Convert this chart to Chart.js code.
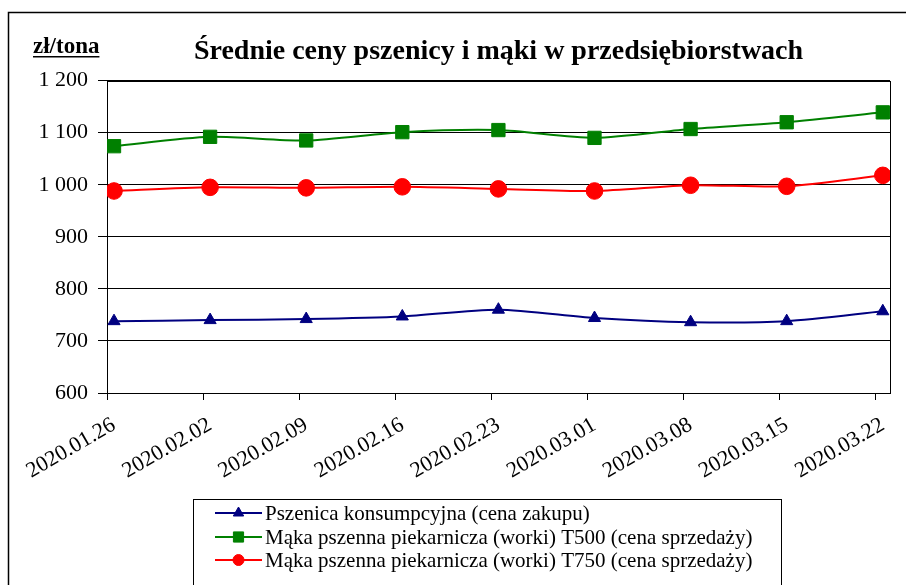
<!DOCTYPE html>
<html>
<head>
<meta charset="utf-8">
<script src="https://cdn.jsdelivr.net/npm/chart.js@4/dist/chart.umd.min.js"></script>
<style>
html,body{margin:0;padding:0;background:#fff;}
#wrap{width:906px;height:585px;}
</style>
</head>
<body>
<div id="wrap"><canvas id="c" width="906" height="585"></canvas></div>
<script>
// ---- data ----
const dates = ['2020.01.26','2020.02.02','2020.02.09','2020.02.16','2020.02.23','2020.03.01','2020.03.08','2020.03.15','2020.03.22'];
const wheat = [738, 740, 742, 747, 760, 744, 736, 738, 757];
const flourT500 = [1074, 1092, 1085, 1101, 1105, 1090, 1107, 1120, 1139];
const flourT750 = [988, 995, 994, 996, 992, 988, 999, 997, 1018];
const seriesNames = [
  'Pszenica konsumpcyjna (cena zakupu)',
  'Mąka pszenna piekarnicza (worki) T500 (cena sprzedaży)',
  'Mąka pszenna piekarnicza (worki) T750 (cena sprzedaży)'
];
const yMin = 600, yMax = 1200, yStep = 100;
const unitLabel = 'zł/tona';
const titleText = 'Średnie ceny pszenicy i mąki w przedsiębiorstwach';

const FONT = "Liberation Serif";
const toXY = arr => arr.map((v, i) => ({x: i, y: v}));
const tickShift = -0.073;

const fmt = v => v >= 1000 ? Math.floor(v / 1000) + ' ' + String(v % 1000).padStart(3, '0') : String(v);

const legendMarkers = [
  {style: 'triangle', r: 6},
  {style: 'rect', r: 7.2},
  {style: 'circle', r: 5.5}
];

const framePlugin = {
  id: 'frame',
  beforeDraw(chart) {
    const ctx = chart.ctx;
    ctx.save();
    ctx.fillStyle = '#fff';
    ctx.fillRect(0, 0, chart.width, chart.height);
    ctx.strokeStyle = '#000';
    ctx.lineWidth = 1.5;
    ctx.strokeRect(8.5, 12.5, 1000, 1000);
    ctx.restore();
  },
  beforeDatasetsDraw(chart) {
    const a = chart.chartArea, ctx = chart.ctx;
    ctx.save();
    ctx.strokeStyle = '#000';
    ctx.lineWidth = 1;
    ctx.strokeRect(Math.round(a.left) + 0.5, Math.round(a.top) + 0.5, Math.round(a.right - a.left), Math.round(a.bottom - a.top));
    ctx.restore();
  },
  afterDraw(chart) {
    const ctx = chart.ctx;
    ctx.save();
    // unit label
    ctx.fillStyle = '#000';
    ctx.font = "bold 23px '" + FONT + "'";
    ctx.textBaseline = 'alphabetic';
    ctx.textAlign = 'left';
    ctx.fillText(unitLabel, 33, 53);
    const w = ctx.measureText(unitLabel).width;
    ctx.fillRect(33, 56, w, 1.5);
    // legend
    const bx = 193.5, by = 499.5, bw = 588;
    ctx.strokeStyle = '#000';
    ctx.lineWidth = 1;
    ctx.strokeRect(bx, by, bw, 200);
    ctx.font = "21px '" + FONT + "'";
    ctx.textBaseline = 'middle';
    const rows = [513, 537, 560];
    chart.data.datasets.forEach((ds, i) => {
      const y = rows[i];
      ctx.strokeStyle = ds.borderColor;
      ctx.lineWidth = 2;
      ctx.beginPath();
      ctx.moveTo(215, y);
      ctx.lineTo(262, y);
      ctx.stroke();
      ctx.fillStyle = ds.borderColor;
      ctx.lineWidth = 1;
      Chart.helpers.drawPoint(ctx, {pointStyle: legendMarkers[i].style, radius: legendMarkers[i].r, rotation: 0, borderWidth: 1}, 238.5, y);
      ctx.fillStyle = '#000';
      ctx.fillText(ds.label, 265, y + 1);
    });
    ctx.restore();
  }
};

const mkDs = (label, data, color, style, r) => ({
  label, data: toXY(data),
  borderColor: color, backgroundColor: color,
  pointBackgroundColor: color, pointBorderColor: color,
  pointStyle: style, pointRadius: r, pointBorderWidth: 1,
  borderWidth: 2, tension: 0.25, fill: false
});

function draw() {
  new Chart(document.getElementById('c'), {
    type: 'line',
    data: {
      datasets: [
        mkDs(seriesNames[0], wheat, '#000080', 'triangle', 7),
        mkDs(seriesNames[1], flourT500, '#008000', 'rect', 9.4),
        mkDs(seriesNames[2], flourT750, '#ff0000', 'circle', 8.3)
      ]
    },
    options: {
      responsive: false,
      animation: false,
      devicePixelRatio: 1,
      layout: {padding: {top: 0, right: 16, bottom: 92, left: 0}},
      plugins: {
        legend: {display: false},
        tooltip: {enabled: false},
        title: {
          display: true, text: titleText, fullSize: false, color: '#000',
          font: {family: FONT, size: 28, weight: 'bold', lineHeight: 1.2},
          padding: {top: 35, bottom: 12}
        }
      },
      scales: {
        x: {
          type: 'linear', min: tickShift, max: 8.075,
          afterBuildTicks: s => { s.ticks = dates.map((d, i) => ({value: i + tickShift})); },
          afterFit: s => { s.height = 100; },
          grid: {drawOnChartArea: false, drawTicks: true, tickLength: 7, color: '#000', tickColor: '#000'},
          border: {display: true, color: '#000', width: 1},
          ticks: {
            autoSkip: false, minRotation: 30, maxRotation: 30, padding: 12, labelOffset: 7,
            color: '#000', font: {family: FONT, size: 22},
            callback: (v, idx) => dates[idx]
          }
        },
        y: {
          min: yMin, max: yMax,
          afterFit: s => { s.width = 107; },
          grid: {color: '#000', lineWidth: 1, drawTicks: true, tickLength: 9, tickColor: '#000'},
          border: {display: true, color: '#000', width: 1},
          ticks: {stepSize: yStep, padding: 10, color: '#000', font: {family: FONT, size: 22}, callback: v => fmt(v)}
        }
      }
    },
    plugins: [framePlugin]
  });
}

const loads = ["22px 'Liberation Serif'", "21px 'Liberation Serif'", "bold 28px 'Liberation Serif'", "bold 23px 'Liberation Serif'"]
  .map(f => document.fonts.load(f, 'Średnie 1 200 ąż').catch(() => null));
Promise.all(loads).then(draw, draw);
</script>
</body>
</html>
